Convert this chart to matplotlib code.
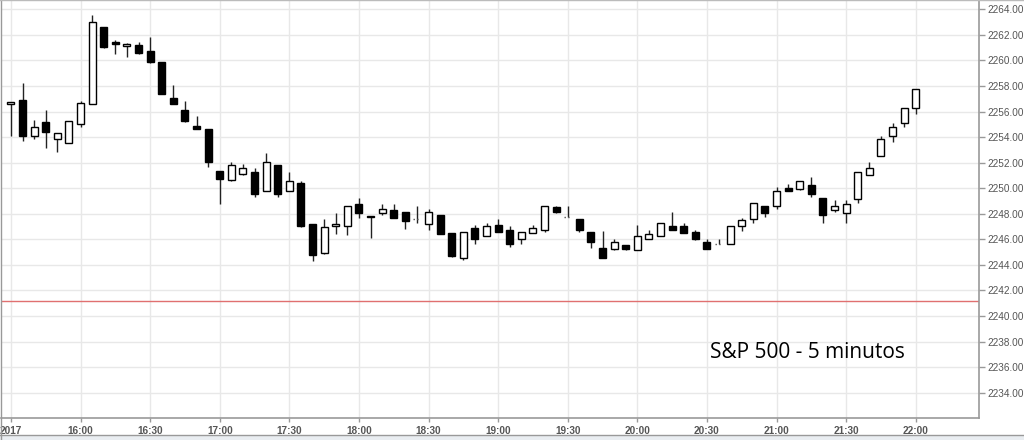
import numpy as np
import matplotlib
matplotlib.use("Agg")
import matplotlib.pyplot as plt
from matplotlib.lines import Line2D
from matplotlib.patches import Rectangle

# 5-minute candles, 15:30 -> 22:00
opens = [2256.59, 2256.91, 2254.09, 2255.21, 2253.83, 2253.57, 2255.03, 2256.57, 2262.64, 2261.47,
         2261.13, 2261.18, 2260.77, 2259.85, 2257.09, 2256.13, 2254.87, 2254.61, 2251.38, 2250.62,
         2251.09, 2251.30, 2249.76, 2251.84, 2249.76, 2250.41, 2247.23, 2244.94, 2247.02, 2247.05,
         2248.79, 2247.80, 2248.09, 2248.32, 2248.11, 2247.62, 2247.23, 2247.88, 2246.50, 2244.55,
         2246.92, 2246.29, 2247.15, 2246.76, 2246.05, 2246.50, 2246.71, 2248.55, 2247.76, 2247.63,
         2246.58, 2245.32, 2245.26, 2245.58, 2245.13, 2246.05, 2246.29, 2247.03, 2247.05, 2246.58,
         2245.79, 2245.66, 2245.61, 2247.08, 2247.60, 2248.61, 2248.59, 2250.05, 2249.97, 2250.24,
         2249.27, 2248.27, 2248.09, 2249.19, 2251.07, 2252.54, 2254.08, 2255.07, 2256.30]
highs = [2256.78, 2258.21, 2255.34, 2256.13, 2254.30, 2255.29, 2256.83, 2263.56, 2262.64, 2261.60,
         2261.34, 2261.47, 2261.81, 2259.85, 2258.08, 2256.83, 2255.66, 2254.61, 2251.38, 2252.08,
         2251.90, 2251.61, 2252.75, 2251.84, 2251.29, 2250.56, 2247.23, 2247.62, 2248.09, 2248.58,
         2249.26, 2247.80, 2248.79, 2248.79, 2248.11, 2248.58, 2248.38, 2247.88, 2246.50, 2246.58,
         2247.10, 2247.28, 2247.62, 2247.03, 2246.58, 2247.11, 2248.63, 2248.60, 2248.63, 2247.63,
         2246.58, 2246.63, 2246.05, 2245.58, 2247.11, 2246.71, 2247.29, 2248.11, 2247.29, 2246.76,
         2246.05, 2246.05, 2247.05, 2247.68, 2248.82, 2248.61, 2250.10, 2250.37, 2250.58, 2250.84,
         2249.27, 2249.06, 2249.06, 2251.28, 2252.07, 2254.08, 2255.07, 2256.30, 2257.76]
lows = [2254.12, 2253.73, 2253.83, 2253.18, 2252.87, 2253.52, 2254.82, 2256.57, 2261.00, 2260.48,
        2260.30, 2260.50, 2259.83, 2257.35, 2256.59, 2255.20, 2254.60, 2251.64, 2248.75, 2250.60,
        2251.04, 2249.35, 2249.76, 2249.31, 2249.76, 2247.00, 2244.29, 2244.89, 2246.45, 2246.37,
        2247.70, 2246.14, 2247.91, 2247.65, 2246.84, 2247.28, 2246.76, 2246.40, 2244.63, 2244.36,
        2245.67, 2246.29, 2246.55, 2245.39, 2245.61, 2246.50, 2246.58, 2248.10, 2247.76, 2246.58,
        2245.32, 2244.53, 2245.13, 2245.13, 2245.13, 2246.05, 2246.29, 2246.76, 2246.53, 2245.92,
        2245.26, 2245.66, 2245.61, 2246.63, 2247.30, 2247.75, 2248.41, 2249.76, 2249.84, 2249.32,
        2247.31, 2248.14, 2247.31, 2248.85, 2251.07, 2252.54, 2253.63, 2254.81, 2255.80]
closes = [2256.78, 2254.09, 2254.77, 2254.38, 2254.30, 2255.29, 2256.65, 2263.04, 2261.08, 2261.26,
          2261.26, 2260.56, 2259.85, 2257.35, 2256.59, 2255.26, 2254.66, 2252.03, 2250.70, 2251.82,
          2251.56, 2249.55, 2252.05, 2249.55, 2250.56, 2247.02, 2244.76, 2246.97, 2247.23, 2248.58,
          2248.09, 2247.76, 2248.38, 2247.65, 2247.44, 2247.62, 2248.11, 2246.40, 2244.68, 2246.58,
          2246.06, 2247.05, 2246.55, 2245.66, 2246.58, 2246.92, 2248.63, 2248.11, 2247.76, 2246.76,
          2245.79, 2244.53, 2245.79, 2245.26, 2246.26, 2246.39, 2247.29, 2246.76, 2246.53, 2246.05,
          2245.26, 2245.66, 2247.05, 2247.50, 2248.81, 2248.07, 2249.76, 2249.76, 2250.58, 2249.53,
          2247.93, 2248.59, 2248.80, 2251.28, 2251.59, 2253.82, 2254.76, 2256.30, 2257.76]

time_labels = ["2017", "16:00", "16:30", "17:00", "17:30", "18:00", "18:30",
               "19:00", "19:30", "20:00", "20:30", "21:00", "21:30", "22:00"]
ref_level = 2241.14
title_text = "S&P 500 - 5 minutos"

fig = plt.figure(figsize=(10.24, 4.4), dpi=100)
ax = fig.add_axes([1 / 1024, 22 / 440, 978 / 1024, 418 / 440])

n = len(opens)
x = np.arange(n)
for i in range(n):
    o, h, l, c = opens[i], highs[i], lows[i], closes[i]
    ax.vlines(x[i], l, h, color="#222222", lw=1, zorder=2)
    if o == c:
        ax.hlines(o, x[i] - 0.3, x[i] + 0.3, color="#555555", lw=1, linestyles=":", zorder=3)
    else:
        ax.bar(x[i], abs(c - o), bottom=min(o, c), width=0.6,
               color="white" if c > o else "black", edgecolor="black", lw=1, zorder=3)

ax.axhline(ref_level, color="#e07070", lw=1, zorder=1)

ax.set_xlim(-0.86, 83.45)
ax.set_ylim(2232.02, 2264.73)

ax.set_yticks(np.arange(2234, 2265, 2))
ax.set_yticklabels(["%.2f" % v for v in np.arange(2234, 2265, 2)])
ax.yaxis.tick_right()
ax.set_xticks(np.arange(0, 79, 6))
ax.set_xticklabels(time_labels)

ax.grid(True, color="#e8e8e8", lw=1, zorder=0)
ax.set_axisbelow(True)

for t in ax.get_yticklabels():
    t.set_fontfamily("Liberation Sans")
    t.set_fontsize(7.2)
    t.set_color("#555555")
for t in ax.get_xticklabels():
    t.set_fontfamily("Liberation Sans")
    t.set_fontsize(7.2)
    t.set_fontweight("bold")
    t.set_color("#555555")
ax.tick_params(axis="y", length=4, width=1, color="#999999", pad=2)
ax.tick_params(axis="x", length=3, width=1, color="#999999", pad=3)

for side in ["top", "left"]:
    ax.spines[side].set_visible(False)
for side in ["right", "bottom"]:
    ax.spines[side].set_color("#999999")
    ax.spines[side].set_linewidth(1.2)

fig.text(710 / 1024, 1 - 352 / 440, title_text, fontsize=15, family="Open Sans",
         ha="left", va="center", color="#000000")

# frame of the window
fig.patches.append(Rectangle((0, 0), 1, 5 / 440, transform=fig.transFigure,
                             facecolor="#e9edf1", edgecolor="none"))
fig.lines.append(Line2D([0, 1], [5 / 440, 5 / 440], transform=fig.transFigure, color="#999999", lw=1))
fig.lines.append(Line2D([0.5 / 1024, 0.5 / 1024], [0, 1], transform=fig.transFigure, color="#999999", lw=1))
fig.lines.append(Line2D([0, 1], [439.5 / 440, 439.5 / 440], transform=fig.transFigure, color="#bbbbbb", lw=1))

fig.savefig("out.png", dpi=100)
